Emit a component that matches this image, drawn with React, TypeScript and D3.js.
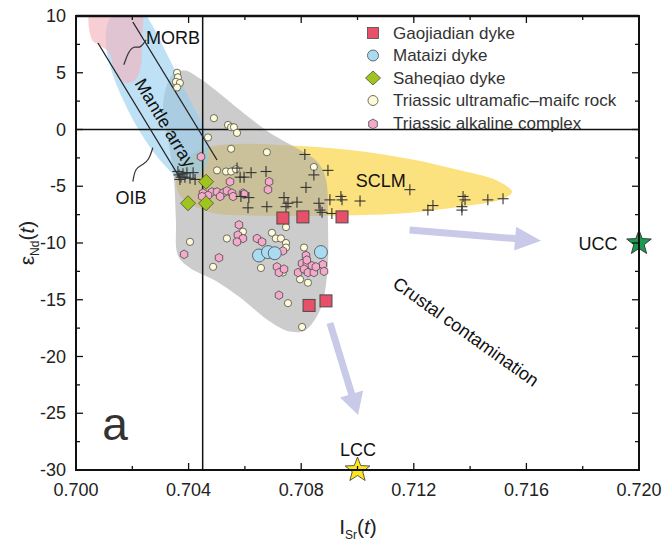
import React from 'react';
import * as d3 from 'd3';

const W = 668, H = 545;
const PL = 76, PR = 639, PT = 16, PB = 470;
const FONT = '"Liberation Sans", Arial, Helvetica, sans-serif';

const xTicksMajor = [0.700, 0.704, 0.708, 0.712, 0.716, 0.720];
const xTickLabels = ['0.700', '0.704', '0.708', '0.712', '0.716', '0.720'];
const yTicksMajor = [10, 5, 0, -5, -10, -15, -20, -25, -30];
const yTickLabels = ['10', '5', '0', '-5', '-10', '-15', '-20', '-25', '-30'];

// Gaojiadian dyke
const gaojiadian: [number, number][] = [
  [0.70735, -7.8], [0.70806, -7.7], [0.70945, -7.7], [0.70828, -15.5], [0.70888, -15.1],
];
// Mataizi dyke
const mataizi: [number, number][] = [
  [0.7065, -11.1], [0.70682, -10.8], [0.70706, -10.9], [0.7087, -10.8],
];
// Saheqiao dyke
const saheqiao: [number, number][] = [
  [0.70462, -4.6], [0.70398, -6.5], [0.70462, -6.5],
];
// Triassic ultramafic–mafic rock
const ultramafic: [number, number][] = [
  [0.70359, 5.0], [0.70362, 4.6], [0.70355, 4.2], [0.70369, 4.1], [0.70359, 3.7],
  [0.7049, 1.0], [0.7054, 0.4], [0.70551, 0.2], [0.70561, 0.2], [0.70572, -0.3],
  [0.70469, -0.7], [0.70551, -1.7], [0.70678, -2.0], [0.70501, -3.6], [0.70533, -3.7],
  [0.70551, -3.7], [0.70568, -3.5], [0.70845, -3.3], [0.70746, -8.6], [0.70593, -9.0],
  [0.70696, -9.1], [0.7071, -9.6], [0.70728, -9.6], [0.70746, -10.0], [0.70746, -10.4],
  [0.70405, -9.9], [0.70536, -9.6], [0.70487, -12.1], [0.70657, -12.2], [0.70735, -12.6],
  [0.7081, -10.4], [0.70796, -13.2], [0.70824, -13.5], [0.70753, -15.3], [0.70803, -17.4],
];
// Triassic alkaline complex
const alkaline: [number, number][] = [
  [0.70444, -2.4], [0.70451, -5.6], [0.70483, -5.5], [0.70501, -5.5], [0.70522, -5.6],
  [0.70536, -5.4], [0.70554, -5.6], [0.70547, -4.6], [0.70469, -5.8], [0.70512, -5.9],
  [0.70558, -5.9], [0.70593, -5.6], [0.70686, -4.6], [0.70682, -5.3], [0.70448, -5.9],
  [0.70597, -5.7], [0.70579, -8.4], [0.70575, -9.3], [0.70593, -9.6], [0.70572, -9.9],
  [0.70643, -9.6], [0.70661, -9.9], [0.70735, -10.7], [0.70384, -11.0], [0.70508, -11.3],
  [0.70714, -12.1], [0.70721, -12.6], [0.70739, -12.3], [0.70817, -11.1], [0.70803, -11.8],
  [0.7082, -11.9], [0.70838, -12.0], [0.70789, -12.6], [0.7081, -12.3], [0.70824, -12.6],
  [0.70845, -12.6], [0.70877, -11.9], [0.70881, -12.5], [0.70852, -12.1], [0.7082, -11.5],
  [0.70721, -14.6],
];
// SCLM data (crosses)
const sclm: [number, number][] = [
  [0.70366, -4.0], [0.70373, -4.2], [0.7038, -3.9], [0.70369, -4.4], [0.70387, -4.2],
  [0.70394, -3.8], [0.70416, -3.8], [0.70423, -4.4], [0.70362, -3.7], [0.70405, -4.3],
  [0.70572, -3.4], [0.70583, -4.2], [0.70597, -4.2], [0.70622, -3.8], [0.70675, -3.7],
  [0.70813, -2.2], [0.70895, -3.6], [0.70845, -4.0], [0.70817, -5.1], [0.70739, -6.0],
  [0.70753, -6.5], [0.70785, -6.4], [0.70678, -6.8], [0.70611, -6.9], [0.70586, -5.9],
  [0.70614, -6.0], [0.70863, -6.5], [0.70902, -6.2], [0.70941, -5.9], [0.70945, -6.2],
  [0.70874, -7.3], [0.70909, -7.4], [0.71009, -6.3], [0.71186, -5.3], [0.7125, -7.1],
  [0.71268, -6.7], [0.71375, -5.9], [0.71382, -6.2], [0.71371, -6.8], [0.71371, -7.1],
  [0.71463, -6.2], [0.71517, -6.1], [0.70867, -7.1], [0.70746, -6.8],
];

// Field outlines (data units)
const morbField: [number, number][] = [
  [0.70057, 11], [0.70227, 11], [0.70234, 7.9], [0.70231, 5.7], [0.70213, 4.45],
  [0.70178, 4.1], [0.70139, 5.1], [0.70117, 6.8], [0.70085, 7.4], [0.70057, 7.9],
];
const mantleField: [number, number][] = [
  [0.70149, 10.5], [0.70227, 10.7], [0.7027, 9.2], [0.70334, 6.1], [0.70405, 2.6],
  [0.70458, 0.0], [0.70472, -2.0], [0.70455, -3.6], [0.70412, -4.4], [0.70362, -4.2],
  [0.70309, -3.0], [0.70245, -0.9], [0.70185, 1.7], [0.70131, 4.8], [0.70107, 7.4],
  [0.70114, 9.5],
];
const grayField: [number, number][] = [
  [0.70309, 1.7], [0.7032, 3.7], [0.70345, 4.9], [0.70387, 5.2], [0.7044, 4.5],
  [0.70494, 3.5], [0.70583, 1.7], [0.70689, -0.3], [0.70796, -1.8], [0.7086, -2.9],
  [0.70888, -4.4], [0.70895, -8.0], [0.70892, -12.8], [0.70867, -15.9], [0.70813, -17.7],
  [0.7076, -17.8], [0.70682, -16.8], [0.70583, -14.8], [0.70494, -13.3], [0.70405, -12.2],
  [0.70362, -11.1], [0.70355, -8.0], [0.70348, -4.4], [0.70327, -0.9],
];
const sclmField: [number, number][] = [
  [0.70355, -4.4], [0.70377, -3.0], [0.7044, -1.8], [0.70547, -1.3], [0.7076, -1.4],
  [0.70973, -1.8], [0.71186, -2.6], [0.71364, -3.6], [0.71495, -4.5], [0.71549, -5.5],
  [0.71506, -6.2], [0.71364, -6.8], [0.71151, -7.4], [0.70902, -7.6], [0.70654, -7.6],
  [0.70494, -7.4], [0.70412, -6.65], [0.70369, -5.8],
];
const mantleLine1: [number, number][] = [[0.70078, 7.62], [0.70369, -4.27]];
const mantleLine2: [number, number][] = [[0.70202, 9.47], [0.70501, -2.69]];
const morbLeader: [number, number][] = [[0.7017, 5.7], [0.70185, 6.8], [0.70206, 7.4], [0.70227, 7.1], [0.70249, 7.9]];
const oibLeader: [number, number][] = [[0.70202, -4.6], [0.7021, -3.4], [0.70238, -3.1], [0.70259, -2.7], [0.70273, -1.6]];
const arrowRight: [number, number][] = [[0.71185, -8.85], [0.71652, -9.8]];
const arrowDown: [number, number][] = [[0.70902, -17.05], [0.71002, -25.15]];
const refX = 0.7045;
const refY = 0;
const ucc: [number, number] = [0.720, -10];
const lcc: [number, number] = [0.710, -30];

const legendItems = [
  { label: 'Gaojiadian dyke', kind: 'square' },
  { label: 'Mataizi dyke', kind: 'bigcircle' },
  { label: 'Saheqiao dyke', kind: 'diamond' },
  { label: 'Triassic ultramafic\u2013maifc rock', kind: 'circle' },
  { label: 'Triassic alkaline complex', kind: 'hex' },
];

const COL = {
  square: '#e8506a', blue: '#a9dcf3', diamond: '#9fc41e', cream: '#fffbd6', pink: '#f5aacb',
  stroke: '#4a4a4a',
};

function hexPath(cx: number, cy: number, r: number) {
  const pts = d3.range(6).map(i => {
    const a = (Math.PI / 180) * (-90 + i * 60);
    return [cx + r * Math.cos(a), cy + r * Math.sin(a)];
  });
  return 'M' + pts.map(p => p.join(',')).join('L') + 'Z';
}
function starPath(cx: number, cy: number, R: number, r: number) {
  const pts = d3.range(10).map(i => {
    const a = (Math.PI / 180) * (-90 + i * 36);
    const rr = i % 2 ? r : R;
    return [cx + rr * Math.cos(a), cy + rr * Math.sin(a)];
  });
  return 'M' + pts.map(p => p.join(',')).join('L') + 'Z';
}
function arrowPath(p0: number[], p1: number[], w: number, hl: number, hw: number) {
  const dx = p1[0] - p0[0], dy = p1[1] - p0[1];
  const L = Math.hypot(dx, dy);
  const ux = dx / L, uy = dy / L, nx = -uy, ny = ux;
  const bx = p1[0] - ux * hl, by = p1[1] - uy * hl;
  const pts = [
    [p0[0] + nx * w / 2, p0[1] + ny * w / 2],
    [bx + nx * w / 2, by + ny * w / 2],
    [bx + nx * hw, by + ny * hw],
    [p1[0], p1[1]],
    [bx - nx * hw, by - ny * hw],
    [bx - nx * w / 2, by - ny * w / 2],
    [p0[0] - nx * w / 2, p0[1] - ny * w / 2],
  ];
  return 'M' + pts.map(p => p.join(',')).join('L') + 'Z';
}

export default function App() {
  const x = d3.scaleLinear().domain([0.700, 0.720]).range([PL, PR]);
  const y = d3.scaleLinear().domain([-30, 10]).range([PB, PT]);
  const closed = d3.line<[number, number]>().x(d => x(d[0])).y(d => y(d[1])).curve(d3.curveCatmullRomClosed.alpha(0.5));
  const open = d3.line<[number, number]>().x(d => x(d[0])).y(d => y(d[1]));
  const smooth = d3.line<[number, number]>().x(d => x(d[0])).y(d => y(d[1])).curve(d3.curveBasis);

  const xMinor = d3.range(0, 11).map(i => 0.700 + i * 0.002);
  const yMinor = d3.range(0, 17).map(i => -30 + i * 2.5);

  const crossSize = 5.5;

  return (
    <svg width={W} height={H} style={{ position: 'absolute', left: 0, top: 0, background: '#fff' }} fontFamily={FONT}>
      <defs>
        <clipPath id="plotclip">
          <rect x={PL} y={PT} width={PR - PL} height={PB - PT} />
        </clipPath>
      </defs>
      <g clipPath="url(#plotclip)">
        <path d={closed(sclmField) || ''} fill="#fbe27f" />
        <path d={closed(grayField) || ''} fill="#aaaaaa" fillOpacity={0.6} />
        <path d={closed(mantleField) || ''} fill="#93cdee" fillOpacity={0.6} />
        <path d={closed(morbField) || ''} fill="#f2b3bd" fillOpacity={0.65} />
      </g>

      {/* arrows */}
      <path d={arrowPath([x(arrowRight[0][0]), y(arrowRight[0][1])], [x(arrowRight[1][0]), y(arrowRight[1][1])], 7, 26, 12)} fill="#c9c9e8" />
      <path d={arrowPath([x(arrowDown[0][0]), y(arrowDown[0][1])], [x(arrowDown[1][0]), y(arrowDown[1][1])], 7, 22, 12)} fill="#c9c9e8" />

      {/* reference lines */}
      <line x1={x(refX)} x2={x(refX)} y1={PT} y2={PB} stroke="#111" strokeWidth={1.5} />
      <line x1={PL} x2={PR} y1={y(refY)} y2={y(refY)} stroke="#111" strokeWidth={1.5} />

      {/* mantle array lines */}
      <path d={open(mantleLine1) || ''} stroke="#222" strokeWidth={1.3} fill="none" />
      <path d={open(mantleLine2) || ''} stroke="#222" strokeWidth={1.3} fill="none" />
      <path d={smooth(morbLeader) || ''} stroke="#333" strokeWidth={1.2} fill="none" />
      <path d={smooth(oibLeader) || ''} stroke="#333" strokeWidth={1.2} fill="none" />

      {/* ultramafic circles */}
      {ultramafic.map((d, i) => (
        <circle key={'u' + i} cx={x(d[0])} cy={y(d[1])} r={3.6} fill={COL.cream} stroke={COL.stroke} strokeWidth={0.8} />
      ))}
      {alkaline.map((d, i) => (
        <path key={'a' + i} d={hexPath(x(d[0]), y(d[1]), 4.3)} fill={COL.pink} stroke={COL.stroke} strokeWidth={0.8} />
      ))}
      {sclm.map((d, i) => (
        <g key={'c' + i} stroke="#333" strokeWidth={1.1}>
          <line x1={x(d[0]) - crossSize} x2={x(d[0]) + crossSize} y1={y(d[1])} y2={y(d[1])} />
          <line x1={x(d[0])} x2={x(d[0])} y1={y(d[1]) - crossSize} y2={y(d[1]) + crossSize} />
        </g>
      ))}
      {mataizi.map((d, i) => (
        <circle key={'m' + i} cx={x(d[0])} cy={y(d[1])} r={6.5} fill={COL.blue} stroke={COL.stroke} strokeWidth={0.8} />
      ))}
      {saheqiao.map((d, i) => (
        <path key={'s' + i} d={`M${x(d[0])},${y(d[1]) - 7.5}L${x(d[0]) + 7.5},${y(d[1])}L${x(d[0])},${y(d[1]) + 7.5}L${x(d[0]) - 7.5},${y(d[1])}Z`} fill={COL.diamond} stroke={COL.stroke} strokeWidth={0.8} />
      ))}
      {gaojiadian.map((d, i) => (
        <rect key={'g' + i} x={x(d[0]) - 6} y={y(d[1]) - 6} width={12} height={12} fill={COL.square} stroke={COL.stroke} strokeWidth={1} />
      ))}

      {/* stars */}
      <path d={starPath(x(ucc[0]), y(ucc[1]), 13, 5.5)} fill="#1e9a50" stroke="#222" strokeWidth={0.8} />
      <path d={starPath(x(lcc[0]), y(lcc[1]), 13, 5.5)} fill="#ffe81a" stroke="#333" strokeWidth={0.8} />

      {/* text labels */}
      <g fill="#111" fontSize={18}>
        <text x={x(0.70345)} y={y(8.06)} textAnchor="middle" dominantBaseline="central">MORB</text>
        <text x={x(0.70195)} y={y(-6.04)} textAnchor="middle" dominantBaseline="central">OIB</text>
        <text transform={`translate(${x(0.70316)},${y(0.57)}) rotate(59)`} textAnchor="middle" dominantBaseline="central">Mantle array</text>
        <text x={x(0.71083)} y={y(-4.54)} textAnchor="middle" dominantBaseline="central">SCLM</text>
        <text x={x(0.71854)} y={y(-10.1)} textAnchor="middle" dominantBaseline="central">UCC</text>
        <text x={x(0.71002)} y={y(-28.2)} textAnchor="middle" dominantBaseline="central">LCC</text>
        <text transform={`translate(${x(0.71385)},${y(-17.84)}) rotate(35.5)`} textAnchor="middle" dominantBaseline="central">Crustal contamination</text>
      </g>
      <text x={x(0.70139)} y={y(-27.4)} fontSize={46} fill="#333" textAnchor="middle">a</text>

      {/* legend */}
      {legendItems.map((it, i) => {
        const cy = 33 + i * 22.5;
        const cx = 373;
        let sym: any = null;
        if (it.kind === 'square') sym = <rect x={cx - 5.5} y={cy - 5.5} width={11} height={11} fill={COL.square} stroke={COL.stroke} strokeWidth={0.8} />;
        else if (it.kind === 'bigcircle') sym = <circle cx={cx} cy={cy} r={5.5} fill={COL.blue} stroke={COL.stroke} strokeWidth={0.8} />;
        else if (it.kind === 'diamond') sym = <path d={`M${cx},${cy - 7}L${cx + 7.5},${cy}L${cx},${cy + 7}L${cx - 7.5},${cy}Z`} fill={COL.diamond} stroke={COL.stroke} strokeWidth={0.8} />;
        else if (it.kind === 'circle') sym = <circle cx={cx} cy={cy} r={5} fill={COL.cream} stroke={COL.stroke} strokeWidth={0.8} />;
        else sym = <path d={hexPath(cx, cy + 1, 5)} fill={COL.pink} stroke={COL.stroke} strokeWidth={0.8} />;
        return (
          <g key={'l' + i}>
            {sym}
            <text x={393} y={cy} dominantBaseline="central" fontSize={17} fill="#333">{it.label}</text>
          </g>
        );
      })}

      {/* ticks */}
      <g stroke="#111" strokeWidth={1.3}>
        {xMinor.map((v, i) => {
          const len = i % 2 === 0 ? 7 : 4;
          return (
            <g key={'xt' + i}>
              <line x1={x(v)} x2={x(v)} y1={PB} y2={PB - len} />
              <line x1={x(v)} x2={x(v)} y1={PT} y2={PT + len} />
            </g>
          );
        })}
        {yMinor.map((v, i) => {
          const len = i % 2 === 0 ? 7 : 4;
          return (
            <g key={'yt' + i}>
              <line x1={PL} x2={PL + len} y1={y(v)} y2={y(v)} />
              <line x1={PR} x2={PR - len} y1={y(v)} y2={y(v)} />
            </g>
          );
        })}
      </g>
      {/* frame */}
      <rect x={PL} y={PT} width={PR - PL} height={PB - PT} fill="none" stroke="#111" strokeWidth={2} />
      <line x1={PL} x2={PR} y1={PT} y2={PT} stroke="#111" strokeWidth={2.5} />

      {/* tick labels */}
      <g fontSize={18} fill="#222">
        {xTicksMajor.map((v, i) => (
          <text key={'xl' + i} x={x(v)} y={496} textAnchor="middle">{xTickLabels[i]}</text>
        ))}
        {yTicksMajor.map((v, i) => (
          <text key={'yl' + i} x={66} y={y(v)} textAnchor="end" dominantBaseline="central">{yTickLabels[i]}</text>
        ))}
      </g>

      {/* axis titles */}
      <text x={358} y={534} textAnchor="middle" fontSize={21} fill="#222">
        <tspan>I</tspan>
        <tspan fontSize={12} dy={5}>Sr</tspan>
        <tspan dy={-5}>(</tspan>
        <tspan fontStyle="italic">t</tspan>
        <tspan>)</tspan>
      </text>
      <text transform="translate(34,243) rotate(-90)" textAnchor="middle" fontSize={21} fill="#222">
        <tspan>ε</tspan>
        <tspan fontSize={12} dy={5}>Nd</tspan>
        <tspan dy={-5}>(</tspan>
        <tspan fontStyle="italic">t</tspan>
        <tspan>)</tspan>
      </text>
    </svg>
  );
}
